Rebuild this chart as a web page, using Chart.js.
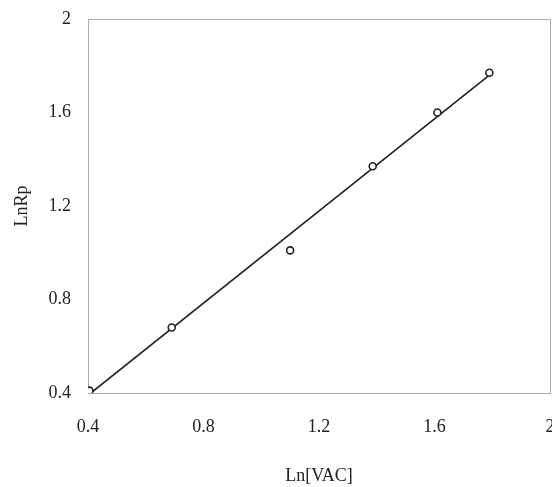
<!DOCTYPE html>
<html>
<head>
<meta charset="utf-8">
<script src="https://cdn.jsdelivr.net/npm/chart.js@4/dist/chart.umd.min.js"></script>
<style>
	body { margin: 0; overflow: hidden; background: #fff; }
	#wrap { width: 560px; height: 487px; }
</style>
</head>
<body>
<div id="wrap"><canvas id="myChart" width="560" height="487"></canvas></div>
<script>
// measured points
const lnVac = [0.405, 0.69, 1.10, 1.386, 1.61, 1.79];
const lnRp = [0.41, 0.68, 1.01, 1.37, 1.60, 1.77];
// fitted line, end points
const fitX = [0.41, 1.79];
const fitY = [0.40, 1.76];
const xTicks = [0.4, 0.8, 1.2, 1.6, 2];
const yTicks = [0.4, 0.8, 1.2, 1.6, 2];

const FONT = { family: '"Liberation Serif", "Times New Roman", serif', size: 18 };
const INK = '#222';
const BORDER = { display: true, color: '#aaa', width: 1, dash: [2, 1] };

const points = lnVac.map((x, i) => ({ x: x, y: lnRp[i] }));
const fit = fitX.map((x, i) => ({ x: x, y: fitY[i] }));

// fixed axis sizes, and no extra room for the edge labels
function fixWidth(w) {
	return function (scale) {
		scale.width = w;
		scale.paddingTop = 0;
		scale.paddingBottom = 0;
	};
}
function fixHeight(h) {
	return function (scale) {
		scale.height = h;
		scale.paddingLeft = 0;
		scale.paddingRight = 0;
	};
}
function plainLabel(value) {
	return String(value);
}

var ctx = document.getElementById('myChart').getContext('2d');
var myChart = new Chart(ctx, {
	type: 'scatter',
	data: {
		datasets: [{
			label: 'data',
			data: points,
			showLine: false,
			pointRadius: 3.5,
			pointBorderWidth: 1.6,
			pointBackgroundColor: '#fff',
			pointBorderColor: INK
		}, {
			label: 'fit',
			data: fit,
			showLine: true,
			borderColor: INK,
			borderWidth: 1.6,
			pointRadius: 0
		}]
	},
	options: {
		responsive: false,
		animation: false,
		devicePixelRatio: 1,
		layout: { padding: { top: 19, right: 10, left: 0, bottom: 0 } },
		plugins: { legend: { display: false }, tooltip: { enabled: false } },
		scales: {
			x: {
				type: 'linear',
				position: 'bottom',
				min: 0.4,
				max: 2,
				afterBuildTicks: function (scale) { scale.ticks = xTicks.map(v => ({ value: v })); },
				afterFit: fixHeight(94),
				grid: { display: false, drawTicks: false },
				border: BORDER,
				ticks: { font: FONT, color: INK, padding: 23, maxRotation: 0, callback: plainLabel },
				title: { display: true, text: 'Ln[VAC]', font: FONT, color: INK, padding: { top: 0, bottom: 0 } }
			},
			y: {
				type: 'linear',
				position: 'left',
				min: 0.4,
				max: 2,
				afterBuildTicks: function (scale) { scale.ticks = yTicks.map(v => ({ value: v })); },
				afterFit: fixWidth(88),
				grid: { display: false, drawTicks: false },
				border: BORDER,
				ticks: { font: FONT, color: INK, padding: 17, callback: plainLabel },
				title: { display: true, text: 'LnRp', font: FONT, color: INK, padding: { top: 11, bottom: 0 } }
			},
			x2: {
				type: 'linear',
				position: 'top',
				min: 0.4,
				max: 2,
				afterFit: fixHeight(0),
				grid: { display: false, drawTicks: false },
				border: BORDER,
				ticks: { display: false }
			},
			y2: {
				type: 'linear',
				position: 'right',
				min: 0.4,
				max: 2,
				afterFit: fixWidth(0),
				grid: { display: false, drawTicks: false },
				border: BORDER,
				ticks: { display: false }
			}
		}
	}
});
</script>
</body>
</html>
